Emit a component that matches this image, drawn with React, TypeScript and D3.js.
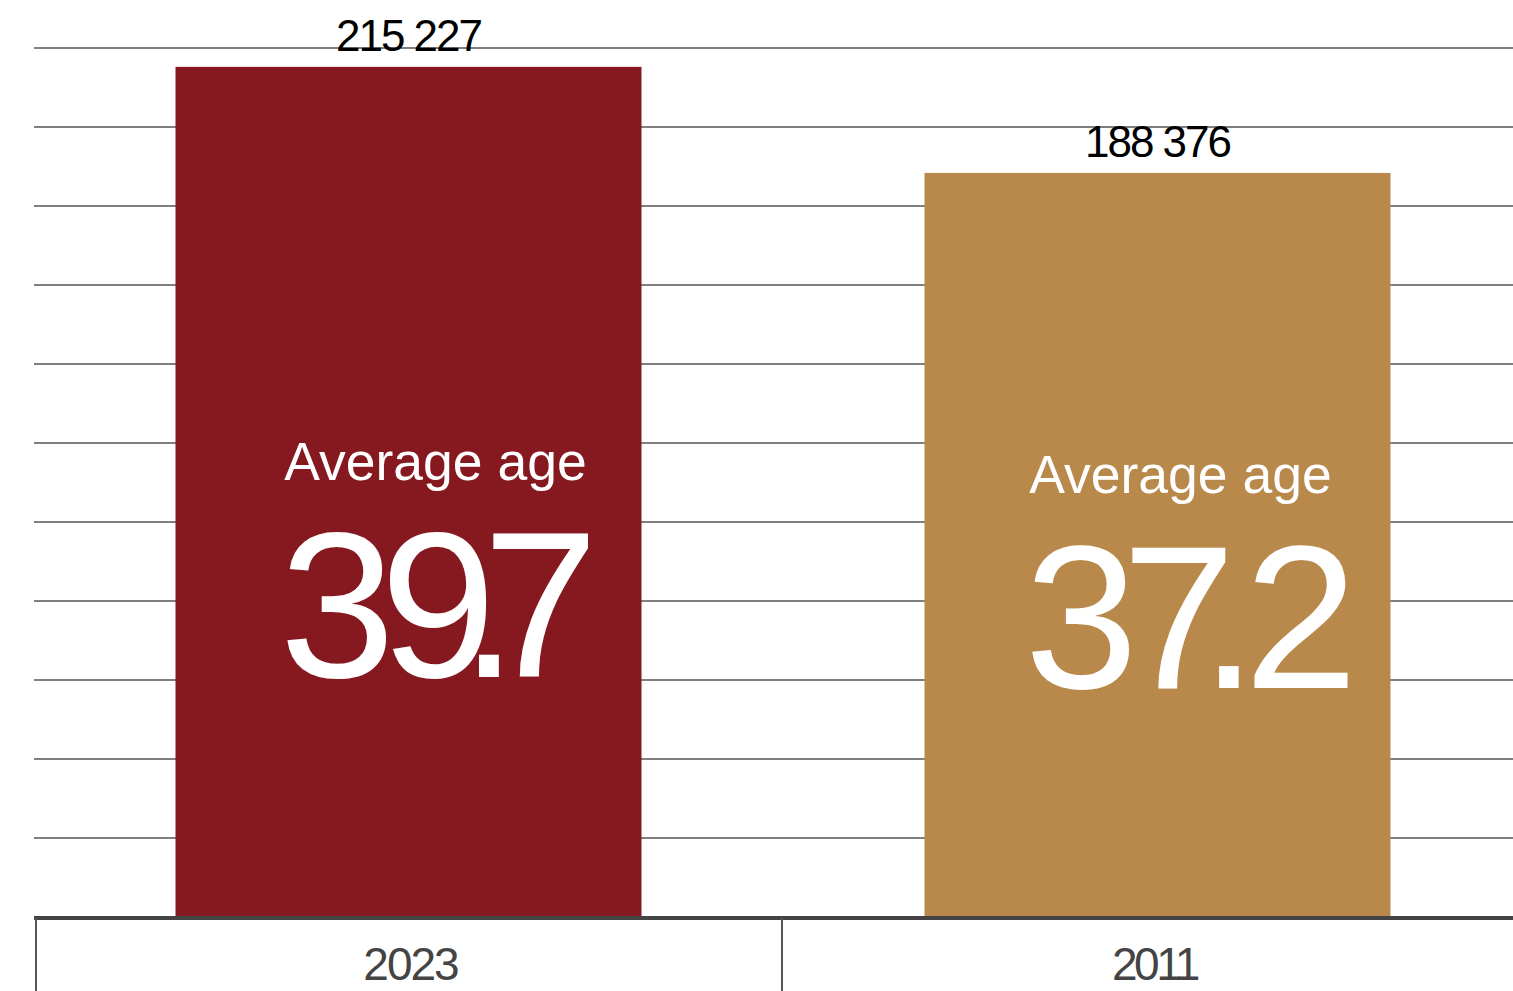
import React from "react";
import * as d3 from "d3";

const categories = ["2023", "2011"];
const totals = [215227, 188376];
const averageAges = ["39.7", "37.2"];
const annotationLabel = "Average age";
const gridValues = [20000, 40000, 60000, 80000, 100000, 120000, 140000, 160000, 180000, 200000, 220000];

const barColors = ["#861820", "#B8894B"];
const bigDx = [
  [0, -15, -36, -35],
  [0, -16, -35, -13],
];
const bigStart = [-129, -133];
const bigSize = [208, 204];
const labelShift = [27, 23];
const labelLift = [437, 424];
const bigLift = [240, 229];
const catSpacing = [-2, -3.5];
const catShift = [2, -3];
const dividerNudge = [2, -1, 0];

const W = 1513;
const H = 991;
const FONT = "'Liberation Sans', Arial, Helvetica, sans-serif";

export default function App() {
  const x = d3.scaleBand<string>().domain(categories).range([34, 1532]).paddingInner(0).paddingOuter(0);
  const y = d3.scaleLinear().domain([0, 220000]).range([917, 48]);
  const bw = x.bandwidth();
  const barW = 466;
  const fmt = (v: number) => d3.format(",")(v).replace(/,/g, " ");

  return (
    <svg width={W} height={H} style={{ position: "fixed", left: 0, top: 0, background: "#fff" }} fontFamily={FONT}>
      {gridValues.map((g) => (
        <line key={g} x1={34} x2={W} y1={y(g)} y2={y(g)} stroke="#555" strokeWidth={1.5} />
      ))}
      {categories.map((c, i) => {
        const x0 = (x(c) as number) + (bw - barW) / 2;
        const cx = x0 + barW / 2;
        const base = y(0);
        return (
          <g key={c}>
            <rect x={x0} y={y(totals[i])} width={barW} height={base - y(totals[i])} fill={barColors[i]} />
            <text x={cx} y={y(totals[i]) - 16} textAnchor="middle" fontSize={44} letterSpacing={-2} fill="#000">
              {fmt(totals[i])}
            </text>
            <text x={cx + labelShift[i]} y={base - labelLift[i]} textAnchor="middle" fontSize={53.5} fill="#fff">
              {annotationLabel}
            </text>
            <text x={cx + bigStart[i]} y={base - bigLift[i]} textAnchor="start" fontSize={bigSize[i]} fill="#fff">
              {averageAges[i].split("").map((ch, k) => (
                <tspan key={k} dx={bigDx[i][k]}>
                  {ch}
                </tspan>
              ))}
            </text>
            <text
              x={(x(c) as number) + bw / 2 + catShift[i]}
              y={980}
              textAnchor="middle"
              fontSize={46}
              letterSpacing={catSpacing[i]}
              fill="#444"
            >
              {c}
            </text>
          </g>
        );
      })}
      <line x1={34} x2={W} y1={918} y2={918} stroke="#444" strokeWidth={4} />
      {[...categories.map((c) => x(c) as number), 1532].map((v, i) => (
        <line key={i} x1={v + dividerNudge[i]} x2={v + dividerNudge[i]} y1={918} y2={H} stroke="#555" strokeWidth={2} />
      ))}
    </svg>
  );
}
